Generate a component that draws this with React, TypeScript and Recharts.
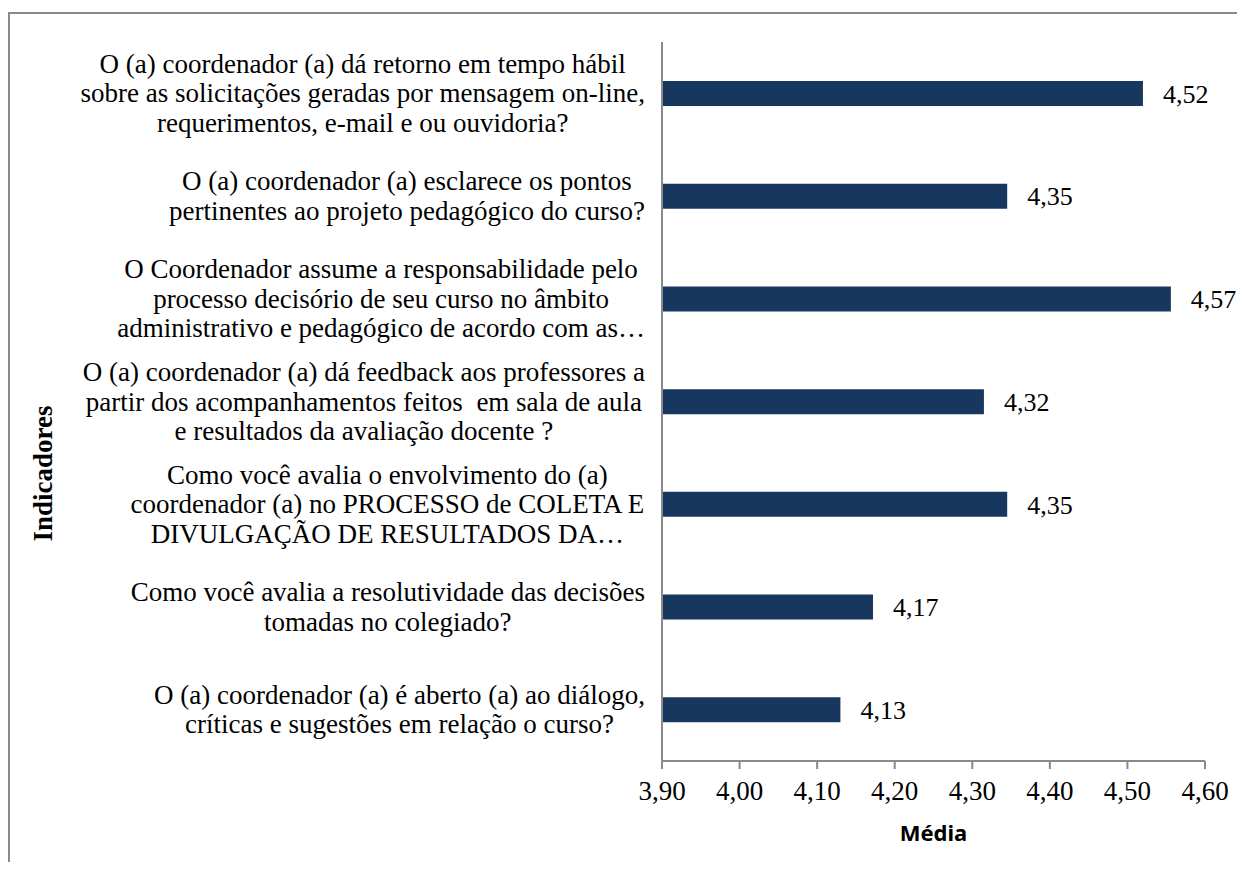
import { BarChart, Bar, XAxis, YAxis, LabelList } from 'recharts';

const categoryLines: string[][] = [
  [
    'O (a) coordenador (a) dá retorno em tempo hábil',
    'sobre as solicitações geradas por mensagem on-line,',
    'requerimentos, e-mail e ou ouvidoria?',
  ],
  ['O (a) coordenador (a) esclarece os pontos', 'pertinentes ao projeto pedagógico do curso?'],
  [
    'O Coordenador assume a responsabilidade pelo',
    'processo decisório de seu curso no âmbito',
    'administrativo e pedagógico de acordo com as…',
  ],
  [
    'O (a) coordenador (a) dá feedback aos professores a',
    'partir dos acompanhamentos feitos  em sala de aula',
    'e resultados da avaliação docente ?',
  ],
  [
    'Como você avalia o envolvimento do (a)',
    'coordenador (a) no PROCESSO de COLETA E',
    'DIVULGAÇÃO DE RESULTADOS DA…',
  ],
  ['Como você avalia a resolutividade das decisões', 'tomadas no colegiado?'],
  ['O (a) coordenador (a) é aberto (a) ao diálogo,', 'críticas e sugestões em relação o curso?'],
];

// bar lengths
const medias = [4.52, 4.345, 4.556, 4.315, 4.345, 4.172, 4.13];
// value labels as printed next to the bars
const rotulos = ['4,52', '4,35', '4,57', '4,32', '4,35', '4,17', '4,13'];

const xTicks = [3.9, 4.0, 4.1, 4.2, 4.3, 4.4, 4.5, 4.6];

const data = categoryLines.map((_, i) => ({
  key: String(i),
  media: medias[i],
  rotulo: rotulos[i],
}));

const SERIF = "'Liberation Serif', 'Times New Roman', serif";
const FONT_SIZE = 27;
const LINE_H = 29.5;

let ctx: CanvasRenderingContext2D | null = null;
function textWidth(s: string) {
  if (!ctx) {
    ctx = document.createElement('canvas').getContext('2d');
  }
  if (!ctx) return s.length * 11;
  ctx.font = `${FONT_SIZE}px 'Liberation Serif'`;
  return ctx.measureText(s).width;
}

const fmt = (v: number) => v.toFixed(2).replace('.', ',');

function CategoryTick(props: any) {
  const { x, y, payload } = props;
  const lines = categoryLines[Number(payload.value)] || [];
  const maxW = Math.max(...lines.map(textWidth));
  const cx = x - maxW / 2;
  const n = lines.length;
  return (
    <text
      x={cx}
      y={y}
      textAnchor="middle"
      fontFamily={SERIF}
      fontSize={FONT_SIZE}
      fill="#000"
      style={{ whiteSpace: 'pre' }}
    >
      {lines.map((line, i) => (
        <tspan key={i} x={cx} y={y + (i - (n - 1) / 2) * LINE_H + 9}>
          {line}
        </tspan>
      ))}
    </text>
  );
}

export default function App() {
  return (
    <div
      style={{
        marginTop: 4,
        width: 1237,
        height: 850,
        boxSizing: 'border-box',
        borderLeft: '2px solid #8a8a8a',
        borderTop: '2px solid #8a8a8a',
        background: '#fff',
      }}
    >
      <BarChart
        width={1235}
        height={848}
        data={data}
        layout="vertical"
        margin={{ top: 28, right: 40, left: 12, bottom: 21 }}
        barSize={25}
        style={{ overflow: 'visible' }}
      >
        <XAxis
          type="number"
          domain={[3.9, 4.6]}
          ticks={xTicks}
          tickFormatter={fmt}
          height={80}
          axisLine={{ stroke: '#8a8a8a', strokeWidth: 2 }}
          tickLine={{ stroke: '#8a8a8a', strokeWidth: 2 }}
          tickSize={8}
          tickMargin={12}
          tick={{ fill: '#000', fontFamily: SERIF, fontSize: FONT_SIZE }}
          interval={0}
          label={{
            value: 'Média',
            position: 'insideBottom',
            offset: 0,
            style: { fontFamily: "'Noto Sans', sans-serif", fontWeight: 700, fontSize: 22, fill: '#000' },
          }}
        />
        <YAxis
          type="category"
          dataKey="key"
          width={640}
          axisLine={{ stroke: '#8a8a8a', strokeWidth: 2 }}
          tickLine={false}
          tickSize={0}
          tickMargin={17}
          tick={<CategoryTick />}
          interval={0}
          label={{
            content: ({ viewBox }: any) => {
              const lx = viewBox.x + 21;
              const ly = viewBox.y + viewBox.height / 2 + 72;
              return (
                <text
                  x={lx}
                  y={ly}
                  transform={`rotate(-90 ${lx} ${ly})`}
                  textAnchor="middle"
                  dominantBaseline="central"
                  fontFamily={SERIF}
                  fontWeight={700}
                  fontSize={FONT_SIZE}
                  fill="#000"
                >
                  Indicadores
                </text>
              );
            },
          }}
        />
        <Bar dataKey="media" fill="#18375f" isAnimationActive={false}>
          <LabelList
            dataKey="rotulo"
            position="right"
            offset={20}
            style={{ fontFamily: SERIF, fontSize: 26, fill: '#000' }}
          />
        </Bar>
      </BarChart>
    </div>
  );
}
